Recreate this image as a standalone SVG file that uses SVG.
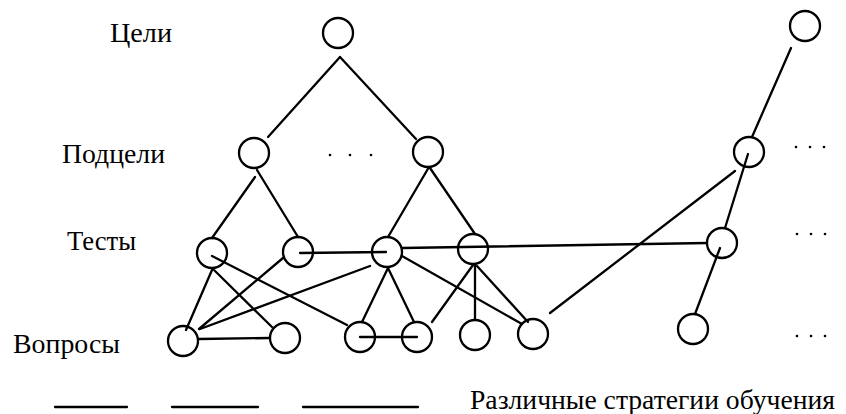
<svg xmlns="http://www.w3.org/2000/svg" width="846" height="414" viewBox="0 0 846 414">
<style>
.n{fill:none;stroke:#000;stroke-width:2.3}
.e{stroke:#000;stroke-width:2.3;fill:none;stroke-linecap:round}
.t{font-family:"Liberation Serif","Times New Roman",serif;font-size:27px;fill:#000}
.d{fill:#000}
</style>
<rect width="846" height="414" fill="#fff"/>
<g id="labels">
<text class="t" x="110" y="42" textLength="62" lengthAdjust="spacingAndGlyphs">Цели</text>
<text class="t" x="62" y="163" textLength="103" lengthAdjust="spacingAndGlyphs">Подцели</text>
<text class="t" x="67" y="250" textLength="69" lengthAdjust="spacingAndGlyphs">Тесты</text>
<text class="t" x="13" y="353" textLength="107" lengthAdjust="spacingAndGlyphs">Вопросы</text>
<text class="t" x="470" y="409" textLength="365" lengthAdjust="spacingAndGlyphs">Различные стратегии обучения</text>
</g>
<g id="connectors">
<line class="e" x1="340" y1="57" x2="268" y2="137"/>
<line class="e" x1="340" y1="57" x2="416" y2="139"/>
<line class="e" x1="255" y1="177" x2="212" y2="238"/>
<line class="e" x1="257" y1="170" x2="298" y2="237"/>
<line class="e" x1="429" y1="167" x2="388" y2="237"/>
<line class="e" x1="430" y1="168" x2="475" y2="234"/>
<line class="e" x1="791" y1="48" x2="752" y2="137"/>
<line class="e" x1="748" y1="154" x2="725" y2="228"/>
<line class="e" x1="735" y1="171" x2="550" y2="313"/>
<line class="e" x1="720" y1="248" x2="695" y2="314"/>
<line class="e" x1="300" y1="253" x2="386" y2="252"/>
<line class="e" x1="402" y1="248" x2="707" y2="243"/>
<line class="e" x1="212" y1="270" x2="186" y2="330"/>
<line class="e" x1="213" y1="269" x2="272" y2="327"/>
<line class="e" x1="212" y1="256" x2="347" y2="325"/>
<line class="e" x1="283" y1="258" x2="199" y2="329"/>
<line class="e" x1="200" y1="329" x2="370" y2="266"/>
<line class="e" x1="199" y1="339" x2="270" y2="338"/>
<line class="e" x1="388" y1="268" x2="362" y2="322"/>
<line class="e" x1="388" y1="268" x2="414" y2="322"/>
<line class="e" x1="360" y1="337" x2="417" y2="337"/>
<line class="e" x1="402" y1="256" x2="522" y2="324"/>
<line class="e" x1="473" y1="265" x2="432" y2="322"/>
<line class="e" x1="475" y1="265" x2="475" y2="320"/>
<line class="e" x1="477" y1="266" x2="528" y2="322"/>
</g>
<g id="G1"><circle class="n" cx="338" cy="33" r="15"/></g>
<g id="G2"><circle class="n" cx="805" cy="26" r="15"/></g>
<g id="S1"><circle class="n" cx="254" cy="153" r="15"/></g>
<g id="S2"><circle class="n" cx="428" cy="152" r="15"/></g>
<g id="S3"><circle class="n" cx="749" cy="152" r="15"/></g>
<g id="T1"><circle class="n" cx="212" cy="253" r="15"/></g>
<g id="T2"><circle class="n" cx="298" cy="252" r="15"/></g>
<g id="T3"><circle class="n" cx="387" cy="252" r="15"/></g>
<g id="T4"><circle class="n" cx="473" cy="249" r="15"/></g>
<g id="T5"><circle class="n" cx="722" cy="243" r="15"/></g>
<g id="Q1"><circle class="n" cx="183" cy="341" r="15"/></g>
<g id="Q2"><circle class="n" cx="285" cy="338" r="15"/></g>
<g id="Q3"><circle class="n" cx="360" cy="337" r="15"/></g>
<g id="Q4"><circle class="n" cx="417" cy="337" r="15"/></g>
<g id="Q5"><circle class="n" cx="475" cy="335" r="15"/></g>
<g id="Q6"><circle class="n" cx="533" cy="334" r="15"/></g>
<g id="Q7"><circle class="n" cx="693" cy="329" r="15"/></g>
<g id="dots">
<circle class="d" cx="330" cy="155" r="1.3"/><circle class="d" cx="350" cy="155" r="1.3"/><circle class="d" cx="371" cy="155" r="1.3"/>
<circle class="d" cx="796" cy="147" r="1.3"/><circle class="d" cx="810" cy="147" r="1.3"/><circle class="d" cx="824" cy="147" r="1.3"/>
<circle class="d" cx="797" cy="234" r="1.3"/><circle class="d" cx="811" cy="234" r="1.3"/><circle class="d" cx="825" cy="234" r="1.3"/>
<circle class="d" cx="797" cy="336" r="1.3"/><circle class="d" cx="811" cy="336" r="1.3"/><circle class="d" cx="825" cy="336" r="1.3"/>
</g>
<g id="blanks">
<line class="e" x1="55" y1="407" x2="127" y2="407"/>
<line class="e" x1="172" y1="407" x2="258" y2="407"/>
<line class="e" x1="303" y1="407" x2="418" y2="407"/>
</g>
</svg>
